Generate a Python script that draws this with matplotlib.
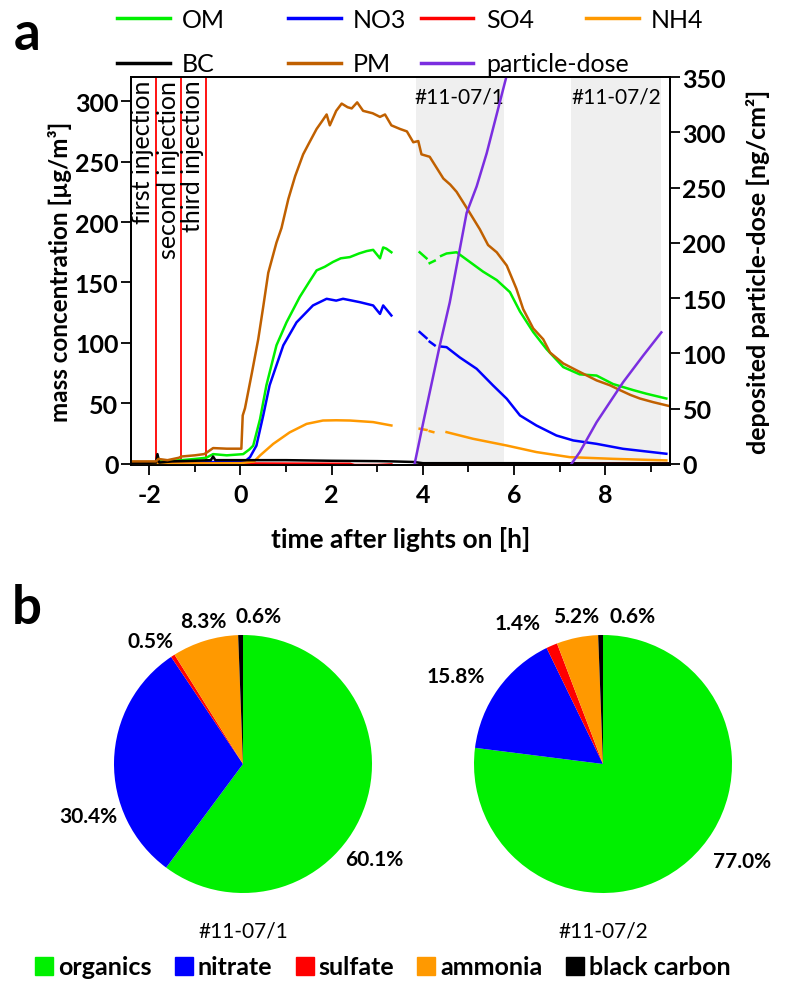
import numpy as np
import matplotlib
matplotlib.use("Agg")
import matplotlib.pyplot as plt
from matplotlib.lines import Line2D
import matplotlib.transforms as mtransforms

plt.rcParams["font.family"] = ["Lato", "DejaVu Sans"]
plt.rcParams["axes.unicode_minus"] = False

nan = np.nan

# ---- panel a: time series (time after lights on [h]) ----
t_pm = [-2.4, -2.1, -1.85, -1.8, -1.6, -1.35, -1.3, -1.0, -0.8, -0.75, -0.6, -0.3, 0.02,
        0.05, 0.1, 0.25, 0.39, 0.5, 0.61, 0.79, 0.9, 1.05, 1.2, 1.375, 1.5, 1.67, 1.8,
        1.89, 1.96, 2.1, 2.22, 2.35, 2.44, 2.56, 2.69, 2.9, 3.06, 3.17, 3.31, 3.5, 3.65,
        3.79, 3.9, 3.97, 4.15, 4.3, 4.45, 4.6, 4.74, 4.99, 5.25, 5.43, 5.62, 5.84, 6.05,
        6.2, 6.42, 6.64, 6.79, 7.08, 7.44, 7.81, 8.1, 8.32, 8.55, 8.76, 9.05, 9.38]
v_pm = [2, 2, 2, 4, 3, 5, 6, 7, 8, 9, 13, 12.5, 12.5,
        40, 46, 75, 103, 130, 158, 183, 195, 219, 238, 256, 265, 277, 284,
        289, 280, 292, 298, 295, 294, 299, 292, 290, 287, 289, 280, 277, 275,
        266, 267, 256, 254, 245, 236, 231, 225, 210, 194, 181, 175, 164, 145,
        128, 112, 103, 92, 83, 76, 69, 65, 61, 57, 54, 51, 48]

t_om = [-2.4, -1.85, -1.8, -1.3, -1.0, -0.75, -0.6, -0.3, 0.06, 0.2, 0.28, 0.43, 0.57,
        0.79, 1.01, 1.3, 1.5, 1.67, 1.85, 2.03, 2.2, 2.4, 2.6, 2.77, 2.91, 3.06, 3.13,
        3.2, 3.31, nan, 3.93, 4.08, nan, 4.15, 4.26, nan, 4.4, 4.52, 4.74, 5.03, 5.32,
        5.62, 5.91, 6.13, 6.42, 6.71, 7.08, 7.44, 7.81, 8.17, 8.61, 8.9, 9.34]
v_om = [1, 1, 2, 3, 4, 5, 8, 7, 8, 12, 15, 37, 65,
        98, 117, 138, 150, 160, 163, 167, 170, 171, 174, 176, 177, 170, 179,
        178, 175, nan, 175, 170, nan, 166, 168, nan, 172, 174, 175, 167, 159,
        152, 142, 126, 109, 95, 80, 74, 73, 66, 61, 58, 54]

t_no3 = [-2.4, -1.0, -0.5, 0.1, 0.21, 0.35, 0.5, 0.64, 0.94, 1.23, 1.59, 1.89, 2.1,
         2.25, 2.45, 2.62, 2.91, 3.06, 3.13, 3.31, nan, 3.93, 4.08, nan, 4.15, 4.26,
         nan, 4.4, 4.52, 4.81, 5.18, 5.54, 5.84, 6.13, 6.49, 6.93, 7.3, 7.81, 8.39,
         8.9, 9.34]
v_no3 = [0.5, 1, 1.5, 2, 5.5, 15, 40, 65, 98, 117, 131, 136.5, 135,
         136.5, 135, 133.7, 131, 124, 131, 122.7, nan, 109, 104, nan, 101, 98,
         nan, 97, 96.5, 88, 78.6, 64.8, 53.8, 40, 31.7, 23.4, 19.3, 16.5, 12.4,
         10.2, 8.3]

t_nh4 = [-2.4, 0.0, 0.3, 0.43, 0.72, 1.08, 1.45, 1.81, 2.1, 2.4, 2.91, 3.31, nan,
         3.93, 4.08, nan, 4.15, 4.23, nan, 4.52, 5.1, 5.84, 6.49, 7.22, 8.17, 9.34]
v_nh4 = [0, 0.5, 2, 6.9, 16.5, 26, 33, 35.8, 36, 35.8, 34.5, 31.7, nan,
         29, 28, nan, 27, 26.2, nan, 26.2, 20.7, 15.1, 9.7, 5.5, 4.1, 2.8]

t_so4 = [-2.4, 0.0, 2.4, 2.5, 3.0, 3.31, nan, 3.93, 9.4]
v_so4 = [0.3, 0.3, 0.0, -1.0, -1.0, -0.5, nan, 0.3, 0.3]

t_bc = [-2.4, -1.85, -1.82, -1.78, -1.5, -1.0, -0.65, -0.6, -0.55, 0, 1, 2, 3, 3.31,
        3.8, 4, 6, 8, 9.4]
v_bc = [0.5, 1, 8, 1, 2, 2.5, 3, 6, 3, 3, 3, 2.5, 2.2, 2, 1.5, 0.5, 0.5, 0.3, 0.3]

# deposited particle dose (right axis)
t_dose1 = [3.82, 4.01, 4.37, 4.59, 4.96, 5.18, 5.40, 5.83]
v_dose1 = [0, 37.6, 106.8, 146, 227, 251, 281, 350]
t_dose2 = [7.26, 7.44, 7.81, 8.39, 8.83, 9.23]
v_dose2 = [0, 10.5, 37.6, 73.7, 97.8, 118.9]

injections = [-1.855, -1.30, -0.76]
injection_names = ["first injection", "second injection", "third injection"]
exposures = [(3.84, 5.78), (7.24, 9.23)]
exposure_names = ["#11-07/1", "#11-07/2"]

# ---- panel b: composition pies ----
components = ["organics", "nitrate", "sulfate", "ammonia", "black carbon"]
pie1 = [60.1, 30.4, 0.5, 8.3, 0.6]
pie2 = [77.0, 15.8, 1.4, 5.2, 0.6]

C_OM = "#00f000"
C_NO3 = "#0000ff"
C_SO4 = "#ff0000"
C_NH4 = "#ff9900"
C_BC = "#000000"
C_PM = "#c06000"
C_DOSE = "#7b2ee0"
pie_colors = [C_OM, C_NO3, C_SO4, C_NH4, C_BC]

fig = plt.figure(figsize=(7.87, 9.87), dpi=100)
W, H = 787, 987

ax = fig.add_axes([131 / W, 1 - 466 / H, 539 / W, 388 / H])
ax2 = ax.twinx()

for (a, b) in exposures:
    ax.axvspan(a, b, color="#efefef", zorder=0, lw=0)
trans = mtransforms.blended_transform_factory(ax.transData, ax.transAxes)
for (a, b), name in zip(exposures, exposure_names):
    ax.text((a + b) / 2, 0.975, name, transform=trans, ha="center", va="top",
            fontsize=15)

for x, name in zip(injections, injection_names):
    ax.axvline(x, color="#ff0000", lw=1.3, zorder=1)
    ax.annotate(name, xy=(x, 1), xycoords=trans, xytext=(-1, -2),
                textcoords="offset points", rotation=90, ha="right", va="top",
                fontsize=18)

lw = 1.8
l_om, = ax.plot(t_om, v_om, color=C_OM, lw=lw, label="OM", zorder=3)
l_no3, = ax.plot(t_no3, v_no3, color=C_NO3, lw=lw, label="NO3", zorder=3)
l_so4, = ax.plot(t_so4, v_so4, color=C_SO4, lw=lw, label="SO4", zorder=3)
l_nh4, = ax.plot(t_nh4, v_nh4, color=C_NH4, lw=lw, label="NH4", zorder=3)
l_bc, = ax.plot(t_bc, v_bc, color=C_BC, lw=lw, label="BC", zorder=3)
l_pm, = ax.plot(t_pm, v_pm, color=C_PM, lw=lw, label="PM", zorder=4)
l_d, = ax2.plot(t_dose1, v_dose1, color=C_DOSE, lw=lw, label="particle-dose")
ax2.plot(t_dose2, v_dose2, color=C_DOSE, lw=lw)

ax.set_xlim(-2.4, 9.42)
ax.set_ylim(-1, 320)
ax2.set_ylim(-1.1, 350)
ax.set_xticks([-2, 0, 2, 4, 6, 8])
ax.set_xticks([-1, 1, 3, 5, 7, 9], minor=True)
ax.set_yticks(range(0, 301, 50))
ax2.set_yticks(range(0, 351, 50))
ax.tick_params(axis="both", which="both", direction="out", width=1.3, labelsize=18)
ax.tick_params(axis="x", which="major", length=7, pad=6)
ax.tick_params(axis="x", which="minor", length=5)
ax.tick_params(axis="y", length=7, pad=2)
ax2.tick_params(axis="y", direction="out", width=1.3, length=7, labelsize=18, pad=2)
for lab in ax.get_xticklabels() + ax.get_yticklabels() + ax2.get_yticklabels():
    lab.set_fontweight("bold")
for sp in list(ax.spines.values()) + list(ax2.spines.values()):
    sp.set_linewidth(1.3)

ax.set_xlabel("time after lights on [h]", fontsize=19, fontweight="bold", labelpad=14)
ax.set_ylabel("mass concentration [µg/m³]", fontsize=17.5, fontweight="bold", labelpad=2)
ax2.set_ylabel("deposited particle-dose [ng/cm²]", fontsize=18, fontweight="bold",
               labelpad=14)

# top legend, one block per column so the columns sit where the original has them
legend_cols = [([l_om, l_bc], 117), ([l_no3, l_pm], 288), ([l_so4, l_d], 421),
               ([l_nh4], 586)]
for hs, x0 in legend_cols:
    leg_top = fig.legend(handles=hs, loc="upper left", bbox_to_anchor=(x0 / W, 1 - 9 / H),
                         frameon=False, fontsize=18, handlelength=2.1, handletextpad=0.5,
                         labelspacing=0.85, borderpad=0, borderaxespad=0)
    for ln in leg_top.get_lines():
        ln.set_linewidth(2.5)

fig.text(27 / W, 1 - 35 / H, "a", fontsize=38, fontweight="bold", ha="center",
         va="center")
fig.text(27 / W, 1 - 608 / H, "b", fontsize=38, fontweight="bold", ha="center",
         va="center")

# ---- pies ----
r_px = 129
lim = 1.4
side = 2 * lim * r_px
pie_centres = [(243, 765), (603, 765)]
pie_values = [pie1, pie2]
label_pos = [
    [(1.02, -0.74), (-1.20, -0.40), (-0.72, 0.95), (-0.31, 1.11), (0.12, 1.15)],
    [(1.08, -0.75), (-1.14, 0.68), (-0.66, 1.09), (-0.21, 1.15), (0.23, 1.15)],
]
for (cx, cy), vals, pos, name in zip(pie_centres, pie_values, label_pos, exposure_names):
    pax = fig.add_axes([(cx - side / 2) / W, 1 - (cy + side / 2) / H, side / W, side / H])
    pax.pie(vals, colors=pie_colors, startangle=90, counterclock=False, radius=1,
            wedgeprops=dict(linewidth=0))
    pax.set_xlim(-lim, lim)
    pax.set_ylim(-lim, lim)
    pax.set_aspect("equal")
    pax.axis("off")
    for v, (px, py) in zip(vals, pos):
        pax.text(px, py, f"{v:.1f}%", ha="center", va="center", fontsize=15,
                 fontweight="bold")
    fig.text(cx / W, 1 - 932 / H, name, ha="center", va="center", fontsize=15)

handles = [Line2D([], [], marker="s", ls="none", markersize=13, color=c,
                  markeredgecolor=c) for c in pie_colors]
leg = fig.legend(handles, components, ncol=5, loc="center", bbox_to_anchor=(0.484, 1 - 968 / H),
                 frameon=False, fontsize=18, handletextpad=0.05, columnspacing=0.8,
                 handlelength=1.0)
for t in leg.get_texts():
    t.set_fontweight("bold")

fig.savefig("out.png", dpi=100)
